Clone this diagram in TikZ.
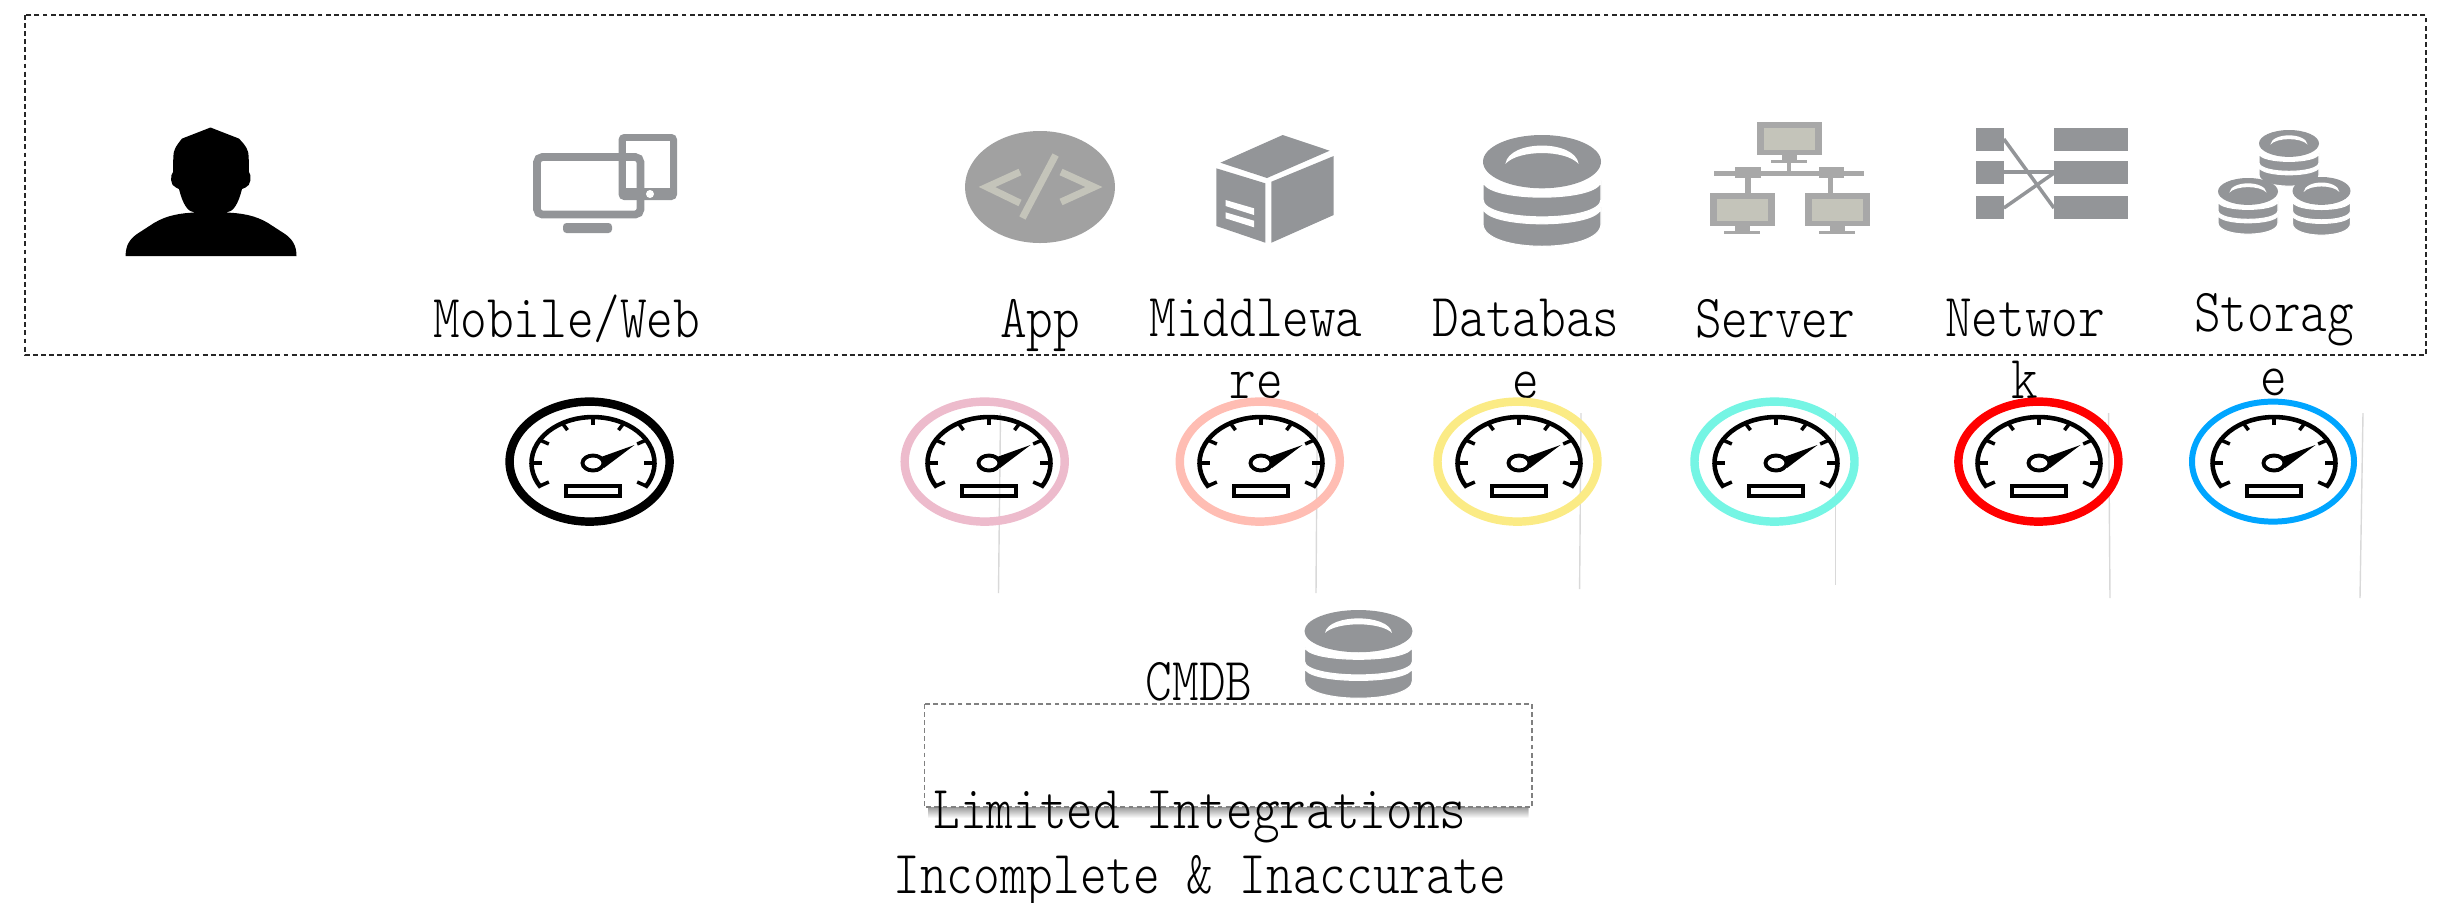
\documentclass[tikz,border=0pt]{standalone}
\usepackage{fontspec}
\newfontfamily\lblfont[FakeStretch=.83]{Latin Modern Mono Light}
\usetikzlibrary{calc}
\definecolor{icongray}{HTML}{939598}
\definecolor{blurgray}{HTML}{A8A8A8}
\definecolor{paleicon}{HTML}{C4C4BA}
\definecolor{ringpink}{HTML}{EDBBCC}
\definecolor{ringsalmon}{HTML}{FFBDB3}
\definecolor{ringyellow}{HTML}{FBEB85}
\definecolor{ringteal}{HTML}{75F5E4}
\definecolor{ringblue}{HTML}{00A5FF}
\tikzset{
  lbl/.style={font=\lblfont\fontsize{17.4}{17.4}\selectfont,inner sep=0pt,anchor=base,align=center},
  ring/.style={line width=2.4pt},
  guide/.style={draw=black!15,line width=.4pt},
  dbfill/.style={fill=icongray,draw=white,line width=.3pt}
}
% database stack: centre x, top y, width, height
\newcommand{\dbicon}[4]{
  \pgfmathsetmacro{\dbx}{#3/100}
  \pgfmathsetmacro{\dby}{#4/100}
  \begin{scope}[shift={(#1,#2)},xscale=\dbx,yscale=\dby]
    \draw[dbfill](-50,65)..controls(-50,85)and(50,85)..(50,65)--(50,80)..controls(50,107)and(-50,107)..(-50,80)--cycle;
    \draw[dbfill](-50,41)..controls(-50,61)and(50,61)..(50,41)--(50,58)..controls(50,79)and(-50,79)..(-50,58)--cycle;
    \fill[icongray](0,24)ellipse(50 and 24);
    \fill[white](-31,26)..controls(-28,4)and(28,4)..(31,26)..controls(20,13)and(-20,13)..(-31,26)--cycle;
  \end{scope}
}
% dial without its ring
\newcommand{\gaugeicon}[1]{
  \begin{scope}[shift={(#1,463)}]
    \draw[line width=1.3pt]plot[domain=-32:212,samples=40]({61.5*cos(\x)},{-46*sin(\x)});
    \foreach \t in {-30,0,...,210}
      \draw[line width=1pt]({61.5*cos(\t)},{-46*sin(\t)})--({51*cos(\t)},{-38*sin(\t)});
    \fill(41.5,-18)--(8,-6)--(11,5)--cycle;
    \draw[line width=1.1pt,fill=white](0,0)ellipse(10.5 and 7.5);
    \draw[line width=.9pt](-27,23)rectangle(27,33);
  \end{scope}
}
\begin{document}
\begin{tikzpicture}[x=.01cm,y=-.01cm]
  \useasboundingbox(0,0)rectangle(2447,902);
  % outer frame
  \draw[black!85,line width=.4pt,dash pattern=on 1.4pt off .9pt](25,15)rectangle(2426,355);
  % user
  \fill(210.5,127.5)--(239,138.6)..controls(246,146)and(248.7,150)..(248.7,157)--(249,172)..controls(252,175)and(251,186)..(245.5,187.5)--(242,189)..controls(238,205)and(233,212)..(226,212.5)..controls(240,213)and(255,215)..(268,223)--(285,234)..controls(292,239)and(296.5,245)..(296.5,256)--(125.6,256)..controls(125.6,245)and(130,239)..(137,234)--(154,223)..controls(167,215)and(182,213)..(195,212.5)..controls(188,212)and(183,205)..(179,189)--(176,187.5)..controls(170,186)and(170,175)..(173,172)--(173.3,157)..controls(173.3,150)and(176,146)..(182,138.6)--cycle;
  % mobile and web
  \fill[icongray,rounded corners=1.5pt](618.6,134)rectangle(677,200);
  \fill[white](626,141)rectangle(670,187.5);
  \fill[white](650,194)circle(4);
  \draw[icongray,line width=2.2pt,rounded corners=1.5pt](537,157)rectangle(640.5,214.5);
  \fill[icongray,rounded corners=1pt](563,233)--(563,223)--(612,223)--(612,233)--cycle;
  % app
  \fill[black!37](1040,187)ellipse(75 and 56);
  \draw[paleicon,line width=2pt](1020,172)--(987,187)--(1020,203);
  \draw[paleicon,line width=2pt](1061,172)--(1094,187)--(1061,202);
  \draw[paleicon,line width=2pt](1055.6,155)--(1022.4,218);
  % middleware
  \fill[icongray](1282.7,135)--(1329.6,150.7)--(1267,178)--(1220.4,162.7)--cycle;
  \fill[icongray](1216.3,168.3)--(1265.3,183.3)--(1265.3,242.7)--(1216.3,226)--cycle;
  \fill[icongray](1271.4,181.7)--(1333.7,156)--(1333.7,215)--(1271.4,242.7)--cycle;
  \fill[white](1225.5,200)--(1254,208.3)--(1254,215)--(1225.5,206)--cycle;
  \fill[white](1225.5,212.3)--(1254,220.7)--(1254,227.3)--(1225.5,218.3)--cycle;
  % database
  \dbicon{1542}{135}{118}{111}
  % server
  \foreach \mx/\my in {1757/121.7,1709.5/193,1805/193}{
    \fill[blurgray](\mx,\my)rectangle(\mx+65,\my+33);
    \fill[paleicon](\mx+7,\my+6)rectangle(\mx+58,\my+28);
    \fill[blurgray](\mx+25,\my+33)rectangle(\mx+40,\my+38);
    \fill[blurgray](\mx+14,\my+38)rectangle(\mx+50,\my+41);
  }
  \fill[blurgray](1713.5,170.7)rectangle(1863.5,176);
  \fill[blurgray](1787,162)rectangle(1791,171);
  \fill[blurgray](1735.4,167)rectangle(1761,178);
  \fill[blurgray](1818.8,167)rectangle(1844,178);
  \fill[blurgray](1745,178)rectangle(1750.7,193);
  \fill[blurgray](1828,178)rectangle(1833,193);
  % network
  \foreach \ry in {128,161,196}{
    \fill[icongray](1976.4,\ry)rectangle(2003.8,\ry+22.7);
    \fill[icongray](2054,\ry)rectangle(2128.4,\ry+22.7);
  }
  \draw[icongray,line width=1pt](2003.8,139)--(2054,208);
  \draw[icongray,line width=1pt](2003.8,172)--(2054,172);
  \draw[icongray,line width=1pt](2003.8,208)--(2054,173);
  % storage
  \dbicon{2289}{130}{60}{56}
  \dbicon{2248}{178}{60}{56}
  \dbicon{2321.5}{177}{58}{58}
  % CMDB
  \dbicon{1358.5}{610}{108}{88}
  % labels
  \node[lbl](mobile)at(567,337.5){Mobile/Web};
  \node[lbl](app)at(1040,337){App};
  \node[lbl](middleware)at(1256,398){Middlewa\\re};
  \node[lbl](database)at(1526,398){Databas\\e};
  \node[lbl](server)at(1775,337){Server};
  \node[lbl](network)at(2025,398){Networ\\k};
  \node[lbl](storage)at(2274,395){Storag\\[.6pt]e};
  \node[lbl](cmdb)at(1199,700){CMDB};
  % guide lines
  \draw[guide](1000.5,413)--(998.5,593);
  \draw[guide](1317.3,413)--(1316,593);
  \draw[guide](1581,413)--(1579.6,589);
  \draw[guide](1835.6,413)--(1835.6,585);
  \draw[guide](2108.6,413)--(2110,598);
  \draw[guide](2363,413)--(2360,598);
  % dials
  \draw[ring](589.6,461.6)ellipse(80 and 60);
  \draw[ring,ringpink](984.7,461.6)ellipse(80 and 60);
  \draw[ring,ringsalmon](1259.8,461.6)ellipse(80 and 60);
  \draw[ring,ringyellow](1517.5,461.6)ellipse(80 and 60);
  \draw[ring,ringteal](1774.5,461.6)ellipse(80 and 60);
  \draw[ring,red](2038.4,461.6)ellipse(80 and 60);
  \draw[ring,line width=1.7pt,ringblue](2273,461.6)ellipse(81 and 60);
  \foreach \gx in {593,989,1261,1519,1776,2039,2274}
    \gaugeicon{\gx}
  % lower box
  \shade[top color=black!40,bottom color=white](928,807)rectangle(1528,818);
  \draw[black!50,fill=white,line width=.5pt,dash pattern=on 1.4pt off .9pt](924.5,704)rectangle(1531.7,807.3);
  \node[lbl](notes)at(1200,893){Limited Integrations\\[1pt]Incomplete \& Inaccurate};
\end{tikzpicture}
\end{document}
